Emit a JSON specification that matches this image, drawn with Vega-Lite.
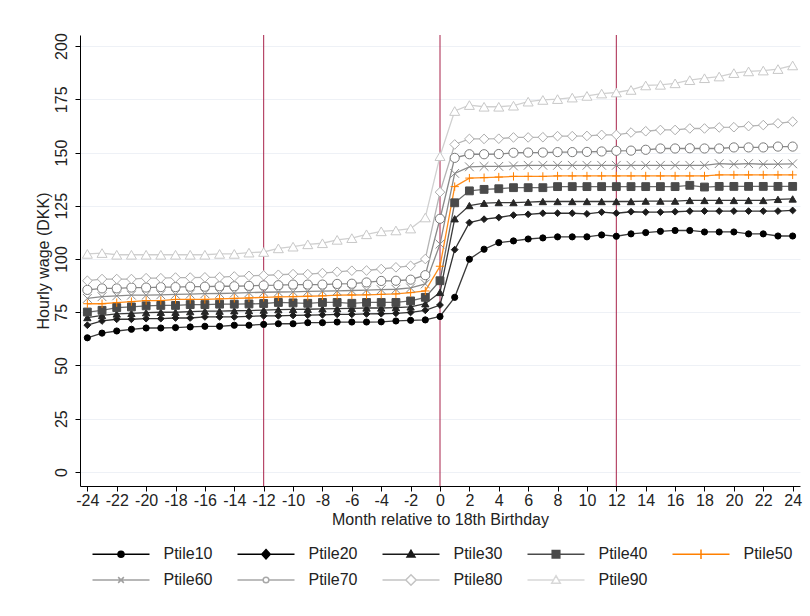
{
  "$schema": "https://vega.github.io/schema/vega-lite/v6.json",
  "width": 720,
  "height": 451,
  "autosize": {"type": "none"},
  "padding": {"left": 80, "top": 35, "right": 10, "bottom": 130},
  "background": "white",
  "config": {
    "font": "Liberation Sans",
    "view": {"stroke": null},
    "axis": {"labelFont": "Liberation Sans", "titleFont": "Liberation Sans", "labelFontSize": 16, "titleFontSize": 16, "titleFontWeight": "normal", "labelColor": "#222", "titleColor": "#222", "domainColor": "#000", "tickColor": "#000", "tickSize": 5},
    "axisX": {"labelOverlap": false, "labelFlush": false, "labelBound": false}
  },
  "datasets": {
    "wages": [
{"month":-24,"series":"Ptile10","wage":63.0},{"month":-23,"series":"Ptile10","wage":65.2},{"month":-22,"series":"Ptile10","wage":66.2},{"month":-21,"series":"Ptile10","wage":67.0},{"month":-20,"series":"Ptile10","wage":67.6},{"month":-19,"series":"Ptile10","wage":67.6},{"month":-18,"series":"Ptile10","wage":67.8},{"month":-17,"series":"Ptile10","wage":68.1},{"month":-16,"series":"Ptile10","wage":68.4},{"month":-15,"series":"Ptile10","wage":68.4},{"month":-14,"series":"Ptile10","wage":68.9},{"month":-13,"series":"Ptile10","wage":68.9},{"month":-12,"series":"Ptile10","wage":69.3},{"month":-11,"series":"Ptile10","wage":69.6},{"month":-10,"series":"Ptile10","wage":69.6},{"month":-9,"series":"Ptile10","wage":70.1},{"month":-8,"series":"Ptile10","wage":70.1},{"month":-7,"series":"Ptile10","wage":70.4},{"month":-6,"series":"Ptile10","wage":70.4},{"month":-5,"series":"Ptile10","wage":70.4},{"month":-4,"series":"Ptile10","wage":70.5},{"month":-3,"series":"Ptile10","wage":70.9},{"month":-2,"series":"Ptile10","wage":71.2},{"month":-1,"series":"Ptile10","wage":71.4},{"month":0,"series":"Ptile10","wage":73.0},{"month":1,"series":"Ptile10","wage":82.0},{"month":2,"series":"Ptile10","wage":99.9},{"month":3,"series":"Ptile10","wage":104.6},{"month":4,"series":"Ptile10","wage":107.7},{"month":5,"series":"Ptile10","wage":108.5},{"month":6,"series":"Ptile10","wage":109.4},{"month":7,"series":"Ptile10","wage":109.9},{"month":8,"series":"Ptile10","wage":110.4},{"month":9,"series":"Ptile10","wage":110.4},{"month":10,"series":"Ptile10","wage":110.4},{"month":11,"series":"Ptile10","wage":111.3},{"month":12,"series":"Ptile10","wage":110.7},{"month":13,"series":"Ptile10","wage":111.8},{"month":14,"series":"Ptile10","wage":112.4},{"month":15,"series":"Ptile10","wage":113.0},{"month":16,"series":"Ptile10","wage":113.4},{"month":17,"series":"Ptile10","wage":113.4},{"month":18,"series":"Ptile10","wage":112.7},{"month":19,"series":"Ptile10","wage":112.7},{"month":20,"series":"Ptile10","wage":112.7},{"month":21,"series":"Ptile10","wage":111.8},{"month":22,"series":"Ptile10","wage":111.8},{"month":23,"series":"Ptile10","wage":110.8},{"month":24,"series":"Ptile10","wage":110.8},
{"month":-24,"series":"Ptile20","wage":68.9},{"month":-23,"series":"Ptile20","wage":70.9},{"month":-22,"series":"Ptile20","wage":71.7},{"month":-21,"series":"Ptile20","wage":71.7},{"month":-20,"series":"Ptile20","wage":72.0},{"month":-19,"series":"Ptile20","wage":72.0},{"month":-18,"series":"Ptile20","wage":72.3},{"month":-17,"series":"Ptile20","wage":72.3},{"month":-16,"series":"Ptile20","wage":72.8},{"month":-15,"series":"Ptile20","wage":72.8},{"month":-14,"series":"Ptile20","wage":72.8},{"month":-13,"series":"Ptile20","wage":73.1},{"month":-12,"series":"Ptile20","wage":73.3},{"month":-11,"series":"Ptile20","wage":73.3},{"month":-10,"series":"Ptile20","wage":73.5},{"month":-9,"series":"Ptile20","wage":73.6},{"month":-8,"series":"Ptile20","wage":73.8},{"month":-7,"series":"Ptile20","wage":74.0},{"month":-6,"series":"Ptile20","wage":74.0},{"month":-5,"series":"Ptile20","wage":74.2},{"month":-4,"series":"Ptile20","wage":74.3},{"month":-3,"series":"Ptile20","wage":74.5},{"month":-2,"series":"Ptile20","wage":74.9},{"month":-1,"series":"Ptile20","wage":75.9},{"month":0,"series":"Ptile20","wage":78.4},{"month":1,"series":"Ptile20","wage":104.4},{"month":2,"series":"Ptile20","wage":117.1},{"month":3,"series":"Ptile20","wage":118.7},{"month":4,"series":"Ptile20","wage":119.5},{"month":5,"series":"Ptile20","wage":120.6},{"month":6,"series":"Ptile20","wage":121.0},{"month":7,"series":"Ptile20","wage":121.5},{"month":8,"series":"Ptile20","wage":121.5},{"month":9,"series":"Ptile20","wage":121.5},{"month":10,"series":"Ptile20","wage":121.2},{"month":11,"series":"Ptile20","wage":122.0},{"month":12,"series":"Ptile20","wage":121.5},{"month":13,"series":"Ptile20","wage":122.2},{"month":14,"series":"Ptile20","wage":122.0},{"month":15,"series":"Ptile20","wage":122.0},{"month":16,"series":"Ptile20","wage":122.2},{"month":17,"series":"Ptile20","wage":122.5},{"month":18,"series":"Ptile20","wage":122.5},{"month":19,"series":"Ptile20","wage":122.5},{"month":20,"series":"Ptile20","wage":122.5},{"month":21,"series":"Ptile20","wage":122.5},{"month":22,"series":"Ptile20","wage":122.5},{"month":23,"series":"Ptile20","wage":122.5},{"month":24,"series":"Ptile20","wage":122.8},
{"month":-24,"series":"Ptile30","wage":72.5},{"month":-23,"series":"Ptile30","wage":73.5},{"month":-22,"series":"Ptile30","wage":74.2},{"month":-21,"series":"Ptile30","wage":74.5},{"month":-20,"series":"Ptile30","wage":74.8},{"month":-19,"series":"Ptile30","wage":75.0},{"month":-18,"series":"Ptile30","wage":75.0},{"month":-17,"series":"Ptile30","wage":75.3},{"month":-16,"series":"Ptile30","wage":75.5},{"month":-15,"series":"Ptile30","wage":75.5},{"month":-14,"series":"Ptile30","wage":75.7},{"month":-13,"series":"Ptile30","wage":75.8},{"month":-12,"series":"Ptile30","wage":76.0},{"month":-11,"series":"Ptile30","wage":76.2},{"month":-10,"series":"Ptile30","wage":76.3},{"month":-9,"series":"Ptile30","wage":76.4},{"month":-8,"series":"Ptile30","wage":76.6},{"month":-7,"series":"Ptile30","wage":76.7},{"month":-6,"series":"Ptile30","wage":76.8},{"month":-5,"series":"Ptile30","wage":77.0},{"month":-4,"series":"Ptile30","wage":77.0},{"month":-3,"series":"Ptile30","wage":77.2},{"month":-2,"series":"Ptile30","wage":77.5},{"month":-1,"series":"Ptile30","wage":79.0},{"month":0,"series":"Ptile30","wage":84.3},{"month":1,"series":"Ptile30","wage":118.9},{"month":2,"series":"Ptile30","wage":125.1},{"month":3,"series":"Ptile30","wage":126.2},{"month":4,"series":"Ptile30","wage":126.5},{"month":5,"series":"Ptile30","wage":126.5},{"month":6,"series":"Ptile30","wage":126.7},{"month":7,"series":"Ptile30","wage":127.0},{"month":8,"series":"Ptile30","wage":127.0},{"month":9,"series":"Ptile30","wage":127.0},{"month":10,"series":"Ptile30","wage":127.0},{"month":11,"series":"Ptile30","wage":127.0},{"month":12,"series":"Ptile30","wage":127.0},{"month":13,"series":"Ptile30","wage":127.0},{"month":14,"series":"Ptile30","wage":127.2},{"month":15,"series":"Ptile30","wage":127.2},{"month":16,"series":"Ptile30","wage":127.2},{"month":17,"series":"Ptile30","wage":127.5},{"month":18,"series":"Ptile30","wage":127.5},{"month":19,"series":"Ptile30","wage":127.5},{"month":20,"series":"Ptile30","wage":127.5},{"month":21,"series":"Ptile30","wage":127.5},{"month":22,"series":"Ptile30","wage":127.5},{"month":23,"series":"Ptile30","wage":128.0},{"month":24,"series":"Ptile30","wage":128.2},
{"month":-24,"series":"Ptile40","wage":75.1},{"month":-23,"series":"Ptile40","wage":75.9},{"month":-22,"series":"Ptile40","wage":77.2},{"month":-21,"series":"Ptile40","wage":77.5},{"month":-20,"series":"Ptile40","wage":78.0},{"month":-19,"series":"Ptile40","wage":78.2},{"month":-18,"series":"Ptile40","wage":78.2},{"month":-17,"series":"Ptile40","wage":78.6},{"month":-16,"series":"Ptile40","wage":78.6},{"month":-15,"series":"Ptile40","wage":78.8},{"month":-14,"series":"Ptile40","wage":78.8},{"month":-13,"series":"Ptile40","wage":78.9},{"month":-12,"series":"Ptile40","wage":79.1},{"month":-11,"series":"Ptile40","wage":79.6},{"month":-10,"series":"Ptile40","wage":79.4},{"month":-9,"series":"Ptile40","wage":79.2},{"month":-8,"series":"Ptile40","wage":79.6},{"month":-7,"series":"Ptile40","wage":79.6},{"month":-6,"series":"Ptile40","wage":79.2},{"month":-5,"series":"Ptile40","wage":79.6},{"month":-4,"series":"Ptile40","wage":79.6},{"month":-3,"series":"Ptile40","wage":79.6},{"month":-2,"series":"Ptile40","wage":80.3},{"month":-1,"series":"Ptile40","wage":82.0},{"month":0,"series":"Ptile40","wage":89.8},{"month":1,"series":"Ptile40","wage":126.4},{"month":2,"series":"Ptile40","wage":132.0},{"month":3,"series":"Ptile40","wage":132.7},{"month":4,"series":"Ptile40","wage":133.0},{"month":5,"series":"Ptile40","wage":133.5},{"month":6,"series":"Ptile40","wage":133.5},{"month":7,"series":"Ptile40","wage":133.5},{"month":8,"series":"Ptile40","wage":134.0},{"month":9,"series":"Ptile40","wage":134.0},{"month":10,"series":"Ptile40","wage":134.0},{"month":11,"series":"Ptile40","wage":134.0},{"month":12,"series":"Ptile40","wage":134.0},{"month":13,"series":"Ptile40","wage":134.0},{"month":14,"series":"Ptile40","wage":134.0},{"month":15,"series":"Ptile40","wage":134.0},{"month":16,"series":"Ptile40","wage":134.0},{"month":17,"series":"Ptile40","wage":134.6},{"month":18,"series":"Ptile40","wage":133.8},{"month":19,"series":"Ptile40","wage":134.1},{"month":20,"series":"Ptile40","wage":134.1},{"month":21,"series":"Ptile40","wage":134.1},{"month":22,"series":"Ptile40","wage":134.1},{"month":23,"series":"Ptile40","wage":134.1},{"month":24,"series":"Ptile40","wage":134.1},
{"month":-24,"series":"Ptile50","wage":79.0},{"month":-23,"series":"Ptile50","wage":79.0},{"month":-22,"series":"Ptile50","wage":79.5},{"month":-21,"series":"Ptile50","wage":80.0},{"month":-20,"series":"Ptile50","wage":80.5},{"month":-19,"series":"Ptile50","wage":80.5},{"month":-18,"series":"Ptile50","wage":81.0},{"month":-17,"series":"Ptile50","wage":81.0},{"month":-16,"series":"Ptile50","wage":81.0},{"month":-15,"series":"Ptile50","wage":81.3},{"month":-14,"series":"Ptile50","wage":81.5},{"month":-13,"series":"Ptile50","wage":81.7},{"month":-12,"series":"Ptile50","wage":82.0},{"month":-11,"series":"Ptile50","wage":82.2},{"month":-10,"series":"Ptile50","wage":82.3},{"month":-9,"series":"Ptile50","wage":82.5},{"month":-8,"series":"Ptile50","wage":82.7},{"month":-7,"series":"Ptile50","wage":83.0},{"month":-6,"series":"Ptile50","wage":83.1},{"month":-5,"series":"Ptile50","wage":83.2},{"month":-4,"series":"Ptile50","wage":83.4},{"month":-3,"series":"Ptile50","wage":83.6},{"month":-2,"series":"Ptile50","wage":84.2},{"month":-1,"series":"Ptile50","wage":85.0},{"month":0,"series":"Ptile50","wage":96.6},{"month":1,"series":"Ptile50","wage":134.0},{"month":2,"series":"Ptile50","wage":138.0},{"month":3,"series":"Ptile50","wage":138.2},{"month":4,"series":"Ptile50","wage":138.5},{"month":5,"series":"Ptile50","wage":138.8},{"month":6,"series":"Ptile50","wage":138.8},{"month":7,"series":"Ptile50","wage":138.8},{"month":8,"series":"Ptile50","wage":139.0},{"month":9,"series":"Ptile50","wage":139.0},{"month":10,"series":"Ptile50","wage":139.0},{"month":11,"series":"Ptile50","wage":139.0},{"month":12,"series":"Ptile50","wage":139.0},{"month":13,"series":"Ptile50","wage":139.0},{"month":14,"series":"Ptile50","wage":139.0},{"month":15,"series":"Ptile50","wage":139.0},{"month":16,"series":"Ptile50","wage":139.0},{"month":17,"series":"Ptile50","wage":139.0},{"month":18,"series":"Ptile50","wage":139.0},{"month":19,"series":"Ptile50","wage":139.5},{"month":20,"series":"Ptile50","wage":139.5},{"month":21,"series":"Ptile50","wage":139.5},{"month":22,"series":"Ptile50","wage":139.5},{"month":23,"series":"Ptile50","wage":139.5},{"month":24,"series":"Ptile50","wage":139.5},
{"month":-24,"series":"Ptile60","wage":81.5},{"month":-23,"series":"Ptile60","wage":82.3},{"month":-22,"series":"Ptile60","wage":82.7},{"month":-21,"series":"Ptile60","wage":83.0},{"month":-20,"series":"Ptile60","wage":83.0},{"month":-19,"series":"Ptile60","wage":83.2},{"month":-18,"series":"Ptile60","wage":83.4},{"month":-17,"series":"Ptile60","wage":83.5},{"month":-16,"series":"Ptile60","wage":83.7},{"month":-15,"series":"Ptile60","wage":83.8},{"month":-14,"series":"Ptile60","wage":84.0},{"month":-13,"series":"Ptile60","wage":84.2},{"month":-12,"series":"Ptile60","wage":84.4},{"month":-11,"series":"Ptile60","wage":84.5},{"month":-10,"series":"Ptile60","wage":84.6},{"month":-9,"series":"Ptile60","wage":84.8},{"month":-8,"series":"Ptile60","wage":84.9},{"month":-7,"series":"Ptile60","wage":85.0},{"month":-6,"series":"Ptile60","wage":85.2},{"month":-5,"series":"Ptile60","wage":85.4},{"month":-4,"series":"Ptile60","wage":85.6},{"month":-3,"series":"Ptile60","wage":85.8},{"month":-2,"series":"Ptile60","wage":86.4},{"month":-1,"series":"Ptile60","wage":88.3},{"month":0,"series":"Ptile60","wage":107.0},{"month":1,"series":"Ptile60","wage":140.2},{"month":2,"series":"Ptile60","wage":143.3},{"month":3,"series":"Ptile60","wage":143.5},{"month":4,"series":"Ptile60","wage":143.5},{"month":5,"series":"Ptile60","wage":143.7},{"month":6,"series":"Ptile60","wage":144.0},{"month":7,"series":"Ptile60","wage":144.0},{"month":8,"series":"Ptile60","wage":144.0},{"month":9,"series":"Ptile60","wage":144.0},{"month":10,"series":"Ptile60","wage":144.0},{"month":11,"series":"Ptile60","wage":144.0},{"month":12,"series":"Ptile60","wage":144.0},{"month":13,"series":"Ptile60","wage":144.0},{"month":14,"series":"Ptile60","wage":144.0},{"month":15,"series":"Ptile60","wage":144.0},{"month":16,"series":"Ptile60","wage":144.0},{"month":17,"series":"Ptile60","wage":144.0},{"month":18,"series":"Ptile60","wage":144.0},{"month":19,"series":"Ptile60","wage":144.8},{"month":20,"series":"Ptile60","wage":144.5},{"month":21,"series":"Ptile60","wage":144.8},{"month":22,"series":"Ptile60","wage":144.5},{"month":23,"series":"Ptile60","wage":144.6},{"month":24,"series":"Ptile60","wage":144.7},
{"month":-24,"series":"Ptile70","wage":85.5},{"month":-23,"series":"Ptile70","wage":86.2},{"month":-22,"series":"Ptile70","wage":86.2},{"month":-21,"series":"Ptile70","wage":86.6},{"month":-20,"series":"Ptile70","wage":86.6},{"month":-19,"series":"Ptile70","wage":86.8},{"month":-18,"series":"Ptile70","wage":86.8},{"month":-17,"series":"Ptile70","wage":87.0},{"month":-16,"series":"Ptile70","wage":87.0},{"month":-15,"series":"Ptile70","wage":87.2},{"month":-14,"series":"Ptile70","wage":87.2},{"month":-13,"series":"Ptile70","wage":87.4},{"month":-12,"series":"Ptile70","wage":87.6},{"month":-11,"series":"Ptile70","wage":87.7},{"month":-10,"series":"Ptile70","wage":88.0},{"month":-9,"series":"Ptile70","wage":88.0},{"month":-8,"series":"Ptile70","wage":88.0},{"month":-7,"series":"Ptile70","wage":88.3},{"month":-6,"series":"Ptile70","wage":88.4},{"month":-5,"series":"Ptile70","wage":89.0},{"month":-4,"series":"Ptile70","wage":89.7},{"month":-3,"series":"Ptile70","wage":89.8},{"month":-2,"series":"Ptile70","wage":90.3},{"month":-1,"series":"Ptile70","wage":92.4},{"month":0,"series":"Ptile70","wage":118.9},{"month":1,"series":"Ptile70","wage":147.5},{"month":2,"series":"Ptile70","wage":149.2},{"month":3,"series":"Ptile70","wage":149.2},{"month":4,"series":"Ptile70","wage":149.3},{"month":5,"series":"Ptile70","wage":149.9},{"month":6,"series":"Ptile70","wage":150.0},{"month":7,"series":"Ptile70","wage":150.0},{"month":8,"series":"Ptile70","wage":150.2},{"month":9,"series":"Ptile70","wage":150.2},{"month":10,"series":"Ptile70","wage":150.3},{"month":11,"series":"Ptile70","wage":150.5},{"month":12,"series":"Ptile70","wage":150.8},{"month":13,"series":"Ptile70","wage":150.9},{"month":14,"series":"Ptile70","wage":151.3},{"month":15,"series":"Ptile70","wage":151.9},{"month":16,"series":"Ptile70","wage":151.9},{"month":17,"series":"Ptile70","wage":152.0},{"month":18,"series":"Ptile70","wage":151.9},{"month":19,"series":"Ptile70","wage":151.9},{"month":20,"series":"Ptile70","wage":152.4},{"month":21,"series":"Ptile70","wage":152.4},{"month":22,"series":"Ptile70","wage":152.4},{"month":23,"series":"Ptile70","wage":152.8},{"month":24,"series":"Ptile70","wage":152.8},
{"month":-24,"series":"Ptile80","wage":89.8},{"month":-23,"series":"Ptile80","wage":90.6},{"month":-22,"series":"Ptile80","wage":90.6},{"month":-21,"series":"Ptile80","wage":90.6},{"month":-20,"series":"Ptile80","wage":91.0},{"month":-19,"series":"Ptile80","wage":91.0},{"month":-18,"series":"Ptile80","wage":91.3},{"month":-17,"series":"Ptile80","wage":91.3},{"month":-16,"series":"Ptile80","wage":91.4},{"month":-15,"series":"Ptile80","wage":91.5},{"month":-14,"series":"Ptile80","wage":91.8},{"month":-13,"series":"Ptile80","wage":92.1},{"month":-12,"series":"Ptile80","wage":92.3},{"month":-11,"series":"Ptile80","wage":92.6},{"month":-10,"series":"Ptile80","wage":92.9},{"month":-9,"series":"Ptile80","wage":92.9},{"month":-8,"series":"Ptile80","wage":93.4},{"month":-7,"series":"Ptile80","wage":94.0},{"month":-6,"series":"Ptile80","wage":94.5},{"month":-5,"series":"Ptile80","wage":94.6},{"month":-4,"series":"Ptile80","wage":95.3},{"month":-3,"series":"Ptile80","wage":96.1},{"month":-2,"series":"Ptile80","wage":96.8},{"month":-1,"series":"Ptile80","wage":100.0},{"month":0,"series":"Ptile80","wage":131.4},{"month":1,"series":"Ptile80","wage":153.8},{"month":2,"series":"Ptile80","wage":156.4},{"month":3,"series":"Ptile80","wage":156.4},{"month":4,"series":"Ptile80","wage":156.5},{"month":5,"series":"Ptile80","wage":157.1},{"month":6,"series":"Ptile80","wage":157.1},{"month":7,"series":"Ptile80","wage":157.2},{"month":8,"series":"Ptile80","wage":157.7},{"month":9,"series":"Ptile80","wage":157.7},{"month":10,"series":"Ptile80","wage":157.8},{"month":11,"series":"Ptile80","wage":158.3},{"month":12,"series":"Ptile80","wage":158.3},{"month":13,"series":"Ptile80","wage":159.4},{"month":14,"series":"Ptile80","wage":160.0},{"month":15,"series":"Ptile80","wage":160.6},{"month":16,"series":"Ptile80","wage":160.6},{"month":17,"series":"Ptile80","wage":161.3},{"month":18,"series":"Ptile80","wage":161.3},{"month":19,"series":"Ptile80","wage":161.8},{"month":20,"series":"Ptile80","wage":161.9},{"month":21,"series":"Ptile80","wage":162.4},{"month":22,"series":"Ptile80","wage":162.9},{"month":23,"series":"Ptile80","wage":163.7},{"month":24,"series":"Ptile80","wage":164.5},
{"month":-24,"series":"Ptile90","wage":102.4},{"month":-23,"series":"Ptile90","wage":102.8},{"month":-22,"series":"Ptile90","wage":102.0},{"month":-21,"series":"Ptile90","wage":102.0},{"month":-20,"series":"Ptile90","wage":102.0},{"month":-19,"series":"Ptile90","wage":102.0},{"month":-18,"series":"Ptile90","wage":102.0},{"month":-17,"series":"Ptile90","wage":102.0},{"month":-16,"series":"Ptile90","wage":102.0},{"month":-15,"series":"Ptile90","wage":102.4},{"month":-14,"series":"Ptile90","wage":102.4},{"month":-13,"series":"Ptile90","wage":103.0},{"month":-12,"series":"Ptile90","wage":103.3},{"month":-11,"series":"Ptile90","wage":105.0},{"month":-10,"series":"Ptile90","wage":105.8},{"month":-9,"series":"Ptile90","wage":106.9},{"month":-8,"series":"Ptile90","wage":107.4},{"month":-7,"series":"Ptile90","wage":109.0},{"month":-6,"series":"Ptile90","wage":109.8},{"month":-5,"series":"Ptile90","wage":111.6},{"month":-4,"series":"Ptile90","wage":113.0},{"month":-3,"series":"Ptile90","wage":113.4},{"month":-2,"series":"Ptile90","wage":114.3},{"month":-1,"series":"Ptile90","wage":119.5},{"month":0,"series":"Ptile90","wage":148.3},{"month":1,"series":"Ptile90","wage":169.5},{"month":2,"series":"Ptile90","wage":172.3},{"month":3,"series":"Ptile90","wage":171.5},{"month":4,"series":"Ptile90","wage":171.5},{"month":5,"series":"Ptile90","wage":172.0},{"month":6,"series":"Ptile90","wage":173.9},{"month":7,"series":"Ptile90","wage":174.7},{"month":8,"series":"Ptile90","wage":175.1},{"month":9,"series":"Ptile90","wage":175.8},{"month":10,"series":"Ptile90","wage":176.6},{"month":11,"series":"Ptile90","wage":177.7},{"month":12,"series":"Ptile90","wage":178.2},{"month":13,"series":"Ptile90","wage":179.4},{"month":14,"series":"Ptile90","wage":181.5},{"month":15,"series":"Ptile90","wage":181.8},{"month":16,"series":"Ptile90","wage":182.5},{"month":17,"series":"Ptile90","wage":184.0},{"month":18,"series":"Ptile90","wage":184.9},{"month":19,"series":"Ptile90","wage":185.7},{"month":20,"series":"Ptile90","wage":187.3},{"month":21,"series":"Ptile90","wage":188.1},{"month":22,"series":"Ptile90","wage":188.5},{"month":23,"series":"Ptile90","wage":189.2},{"month":24,"series":"Ptile90","wage":190.9}
    ],
    "marks": [{"month": -12}, {"month": 0}, {"month": 12}]
  },
  "encoding": {
    "x": {"field": "month", "type": "quantitative", "scale": {"domain": [-24.5, 24.5], "nice": false, "zero": false},
      "axis": {"title": "Month relative to 18th Birthday", "values": [-24,-22,-20,-18,-16,-14,-12,-10,-8,-6,-4,-2,0,2,4,6,8,10,12,14,16,18,20,22,24], "labelExpr": "'' + datum.value", "labelOverlap": false, "grid": false, "labelPadding": 1, "titlePadding": 3, "labelFlush": false}}
  },
  "layer": [
    {
      "data": {"name": "marks"},
      "mark": {"type": "rule", "color": "#a8234a", "strokeWidth": 1},
      "encoding": {}
    },
    {
      "data": {"name": "wages"},
      "mark": {"type": "line", "strokeWidth": 1.3},
      "encoding": {
        "y": {"field": "wage", "type": "quantitative", "scale": {"domain": [-6.6, 205.2], "nice": false, "zero": false},
          "axis": {"title": "Hourly wage (DKK)", "values": [0,25,50,75,100,125,150,175,200], "grid": true, "gridColor": "#eef1f6", "labelAngle": 270, "labelAlign": "center", "labelBaseline": "bottom", "labelPadding": 6, "titlePadding": 2}},
        "stroke": {"field": "series", "type": "nominal", "legend": null,
          "scale": {"domain": ["Ptile10","Ptile20","Ptile30","Ptile40","Ptile50","Ptile60","Ptile70","Ptile80","Ptile90"],
            "range": ["#3a3a3a","#333333","#3a3a3a","#6a6a6a","#ff8c1a","#8a8a8a","#8a8a8a","#b4b4b4","#d0d0d0"]}}
      }
    },
    {
      "data": {"name": "wages"},
      "mark": {"type": "point", "strokeWidth": 1, "opacity": 1},
      "encoding": {
        "y": {"field": "wage", "type": "quantitative"},
        "stroke": {"field": "series", "type": "nominal", "legend": null,
          "scale": {"domain": ["Ptile10","Ptile20","Ptile30","Ptile40","Ptile50","Ptile60","Ptile70","Ptile80","Ptile90"],
            "range": ["#000000","#1c1c1c","#262626","#4a4a4a","#ff8000","#8a8a8a","#7a7a7a","#ababab","#c8c8c8"]}},
        "fill": {"field": "series", "type": "nominal", "legend": null,
          "scale": {"domain": ["Ptile10","Ptile20","Ptile30","Ptile40","Ptile50","Ptile60","Ptile70","Ptile80","Ptile90"],
            "range": ["#000000","#1c1c1c","#262626","#4a4a4a","transparent","transparent","#ffffff","#ffffff","#ffffff"]}},
        "shape": {"field": "series", "type": "nominal", "legend": null,
          "scale": {"domain": ["Ptile10","Ptile20","Ptile30","Ptile40","Ptile50","Ptile60","Ptile70","Ptile80","Ptile90"],
            "range": ["circle","diamond","triangle-up","square","M-1,0L1,0M0,-1L0,1","M-1,-1L1,1M-1,1L1,-1","circle","diamond","triangle-up"]}},
        "size": {"field": "series", "type": "nominal", "legend": null,
          "scale": {"domain": ["Ptile10","Ptile20","Ptile30","Ptile40","Ptile50","Ptile60","Ptile70","Ptile80","Ptile90"],
            "range": [38, 100, 85, 80, 100, 45, 30, 120, 100]}}
      }
    },
    {
      "data": {"name": "wages"},
      "transform": [{"filter": "datum.month > 100"}],
      "mark": {"type": "point", "strokeWidth": 1.5, "size": 361, "opacity": 1},
      "encoding": {
        "y": {"field": "wage", "type": "quantitative"},
        "stroke": {"field": "series", "type": "nominal",
          "scale": {"domain": ["Ptile10","Ptile20","Ptile30","Ptile40","Ptile50","Ptile60","Ptile70","Ptile80","Ptile90"],
            "range": ["#000000","#000000","#1a1a1a","#4a4a4a","#ff8000","#a0a0a0","#a8a8a8","#c4c4c4","#d8d8d8"]},
          "legend": {"title": null, "orient": "none", "legendX": 30.5, "legendY": 508.5, "direction": "horizontal", "columns": 5, "symbolSize": 361, "symbolStrokeWidth": 1.5, "labelFont": "Liberation Sans", "labelFontSize": 16, "labelColor": "#222", "labelOffset": 32, "columnPadding": 22, "rowPadding": 7, "padding": 0}},
        "fill": {"field": "series", "type": "nominal",
          "scale": {"domain": ["Ptile10","Ptile20","Ptile30","Ptile40","Ptile50","Ptile60","Ptile70","Ptile80","Ptile90"],
            "range": ["#000000","#000000","#1a1a1a","#4a4a4a","transparent","transparent","#ffffff","#ffffff","#ffffff"]},
          "legend": {"title": null, "orient": "none", "legendX": 30.5, "legendY": 508.5, "direction": "horizontal", "columns": 5, "symbolSize": 361, "symbolStrokeWidth": 1.5, "labelFont": "Liberation Sans", "labelFontSize": 16, "labelColor": "#222", "labelOffset": 32, "columnPadding": 22, "rowPadding": 7, "padding": 0}},
        "shape": {"field": "series", "type": "nominal",
          "scale": {"domain": ["Ptile10","Ptile20","Ptile30","Ptile40","Ptile50","Ptile60","Ptile70","Ptile80","Ptile90"],
            "range": [
              "M-3,0L3,0M-0.32,0A0.32,0.32,0,1,0,0.32,0A0.32,0.32,0,1,0,-0.32,0Z",
              "M-3,0L3,0M0,-0.5L0.45,0L0,0.5L-0.45,0Z",
              "M-3,0L3,0M0,-0.42L0.42,0.3L-0.42,0.3Z",
              "M-3,0L3,0M-0.4,-0.4L0.4,-0.4L0.4,0.4L-0.4,0.4Z",
              "M-3,0L3,0M0,-0.5L0,0.5",
              "M-3,0L3,0M-0.3,-0.3L0.3,0.3M-0.3,0.3L0.3,-0.3",
              "M-3,0L-0.3,0M0.3,0L3,0M-0.3,0A0.3,0.3,0,1,0,0.3,0A0.3,0.3,0,1,0,-0.3,0Z",
              "M-3,0L-0.55,0M0.55,0L3,0M0,-0.55L0.55,0L0,0.55L-0.55,0Z",
              "M-3,0L-0.26,0M0.26,0L3,0M0,-0.45L0.45,0.33L-0.45,0.33Z"
            ]},
          "legend": {"title": null, "orient": "none", "legendX": 30.5, "legendY": 508.5, "direction": "horizontal", "columns": 5, "symbolSize": 361, "symbolStrokeWidth": 1.5, "labelFont": "Liberation Sans", "labelFontSize": 16, "labelColor": "#222", "labelOffset": 32, "columnPadding": 22, "rowPadding": 7, "padding": 0}}
      }
    }
  ],
  "resolve": {"scale": {"stroke": "independent", "fill": "independent", "shape": "independent", "size": "independent"}}
}
